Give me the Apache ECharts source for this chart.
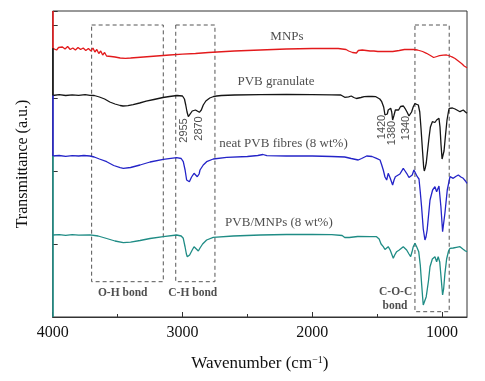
<!DOCTYPE html>
<html>
<head>
<meta charset="utf-8">
<script src="https://cdn.jsdelivr.net/npm/echarts@6/dist/echarts.min.js"></script>
<style>html,body{margin:0;padding:0;background:#fff}#c{width:485px;height:381px}</style>
</head>
<body>
<div id="c"></div>
<script>
// Wavenumber (cm-1) vs offset transmittance (a.u.)
const xMajorTicks = [1000, 2000, 3000, 4000];
const xMinorTicks = [1500, 2500, 3500];
const xTickLabels = [1000, 2000, 3000, 4000];

const mnps = [[4000,268.7],[3985,270],[3970,267],[3955,269.5],[3940,267.5],[3925,270],[3905,268],[3885,270.5],[3865,267.5],[3845,269],[3825,267],[3805,269.5],[3785,267.5],[3765,269],[3745,266.5],[3725,268.5],[3705,266],[3690,269],[3675,265],[3660,267.5],[3645,263.5],[3630,266],[3615,262],[3600,264.5],[3585,261],[3570,263],[3550,260.5],[3520,260],[3480,259],[3440,258.7],[3400,259],[3350,259.5],[3300,260],[3200,261],[3100,262],[3000,262.8],[2900,263.5],[2800,264.5],[2600,266],[2400,267],[2200,268],[2000,268.5],[1900,268.7],[1800,268.5],[1740,267.5],[1720,266],[1705,267.5],[1690,264.5],[1675,266.5],[1660,264],[1645,266.5],[1630,265],[1615,267],[1600,265],[1585,266.5],[1570,264.5],[1555,266],[1540,264],[1525,266],[1510,264.5],[1495,265.5],[1480,264],[1465,265.5],[1450,264.5],[1435,265.5],[1420,265],[1380,265.5],[1330,266.5],[1290,267.5],[1260,267.7],[1220,267.5],[1190,267],[1150,265.5],[1120,263.7],[1090,261.5],[1065,259.5],[1055,259.3],[1040,260.5],[1020,261.3],[990,261.8],[965,262],[940,261],[920,259.8],[900,258.5],[875,256],[850,253.5],[830,251],[815,249.5],[808,249.3]];

const pvbGranulate = [[4000,221.5],[3950,222.3],[3900,221.5],[3850,222.2],[3800,221.6],[3750,222.3],[3713,221.7],[3680,221.5],[3640,220],[3600,218],[3560,215],[3520,213],[3480,211.5],[3458,211],[3420,211.3],[3380,212.3],[3330,214],[3280,215.8],[3220,217.5],[3150,219.5],[3100,220.5],[3042,221.5],[3000,221],[2985,218],[2975,212],[2965,205],[2955,200.3],[2940,202],[2925,206],[2912,208],[2900,207],[2885,205.5],[2870,204.7],[2855,207],[2840,212],[2820,216],[2790,219],[2760,220.5],[2737,221],[2700,221.5],[2600,222],[2400,222.3],[2200,222.5],[2000,222.3],[1850,222.2],[1780,222],[1765,221],[1750,219.7],[1720,220.2],[1700,221],[1680,219.5],[1660,218.5],[1647,218],[1625,219.5],[1600,220.3],[1570,220.5],[1540,220.7],[1510,220.3],[1495,219.5],[1480,218],[1465,215.3],[1450,210],[1440,202],[1432,200.5],[1422,203],[1415,207],[1405,209],[1396,208.7],[1388,205],[1381,197],[1372,201],[1360,207],[1352,206.5],[1345,205.3],[1335,207],[1320,210.5],[1311,212],[1298,211],[1286,208.7],[1270,205],[1255,201],[1247,200.3],[1235,205],[1222,210.3],[1210,213.3],[1204,213.7],[1195,213],[1183,212],[1172,205],[1162,188],[1150,165],[1142,150],[1137,146],[1130,149],[1122,154],[1112,166],[1100,180],[1090,190],[1075,195.3],[1068,193.7],[1055,194.5],[1042,197],[1030,198.5],[1024,198.7],[1016,190],[1008,172],[1000,158],[995,157],[985,166],[975,180],[962,197],[950,206],[945,208.7],[935,207.5],[920,209],[900,208],[888,207],[862,205.3],[837,207],[820,205],[808,203.7]];

const neatFibres = [[4000,161],[3950,161.5],[3900,160.7],[3850,161.3],[3800,161],[3760,161.5],[3713,161],[3680,160],[3640,158],[3584,155.3],[3530,151.5],[3480,149.3],[3456,148.7],[3400,149.5],[3327,152],[3250,155],[3148,157.7],[3045,159.3],[3010,158.5],[2994,155.3],[2980,147],[2968,137],[2955,135.5],[2947,135.3],[2930,140],[2911,143.7],[2898,142],[2886,140.3],[2872,143],[2865,147],[2840,152],[2814,155.3],[2763,158],[2660,159.7],[2500,160.5],[2420,161.5],[2380,162.5],[2350,161.3],[2200,161],[2000,161],[1850,160.5],[1750,160],[1700,158.5],[1646,157],[1620,158.5],[1581,161],[1540,160.5],[1505,158.7],[1478,157],[1465,152],[1453,147],[1440,140],[1427,137],[1415,143.7],[1400,139],[1381,132],[1370,137],[1360,140.3],[1352,139.5],[1345,138.7],[1325,143],[1299,148.7],[1285,146],[1273,143.7],[1255,139.5],[1242,137.7],[1230,142],[1217,147],[1204,147],[1191,140.3],[1178,138],[1168,125],[1158,110.3],[1145,88],[1132,77],[1124,80],[1115,87],[1093,117],[1073,127],[1055,130.3],[1042,125.3],[1024,131],[1009,110.3],[996,85.3],[978,104],[960,127],[939,140.3],[914,138.7],[895,140.5],[875,142],[855,140],[837,138.7],[820,136],[808,133.7]];

const pvbMnps = [[4000,82],[3950,82.4],[3900,81.7],[3850,82.3],[3800,81.8],[3713,82.2],[3650,81],[3584,78.5],[3520,76],[3456,74.3],[3400,74.8],[3327,76.5],[3250,78.5],[3148,80.3],[3045,82],[3010,81],[2994,78.7],[2980,70],[2970,63],[2963,60.3],[2945,62],[2925,67],[2911,70.3],[2898,68.5],[2878,66],[2865,69],[2845,73],[2814,77],[2763,79.7],[2609,81],[2400,82],[2200,82.5],[2000,82.5],[1850,82.3],[1770,81.5],[1750,79.5],[1735,78.7],[1715,79.5],[1700,80.3],[1650,80.5],[1555,80.3],[1505,80.3],[1485,78],[1470,73],[1453,70.3],[1440,67.5],[1427,67],[1415,70.3],[1400,67],[1376,58.7],[1365,62],[1350,65.3],[1330,67],[1299,70.3],[1285,68.5],[1273,67],[1255,63],[1242,60.3],[1230,66],[1222,70.3],[1209,73.7],[1195,70],[1180,65.3],[1168,52],[1158,33.7],[1150,20],[1145,12],[1135,14],[1122,20.3],[1105,36],[1093,50.3],[1075,58],[1055,60.3],[1042,55.3],[1030,60.3],[1018,55],[1008,40],[996,22],[988,28],[978,43.7],[965,58],[950,66],[939,68.7],[914,69],[890,69.7],[862,70.3],[840,68],[820,66],[808,65.3]];

const seriesNames = ['MNPs', 'PVB granulate', 'neat PVB fibres (8 wt%)', 'PVB/MNPs (8 wt%)'];
const seriesLabelPos = [[2195, 280], [2280, 235], [2222, 173], [2257, 94]];
const bondLabels = [['O-H bond', 3461, 23.7], ['C-H bond', 2921, 23.7], ['C-O-C', 1358, 24.7], ['bond', 1363, 11]];
const peakLabels = [['2955', 2990, 186.5], ['2870', 2876, 188.5], ['1420', 1465, 190], ['1380', 1386, 184], ['1340', 1281, 189]];
const boxes = [[3700, 3148, 292, 35.3], [3052, 2750, 292, 35.3], [1209, 945, 292, 5.3]];

const colors = ['#e31a1c', '#151515', '#2424c8', '#1f8c85'];
const allData = [mnps, pvbGranulate, neatFibres, pvbMnps];
const yMax = 306;

const serif = '"Liberation Serif", "Times New Roman", serif';
const chart = echarts.init(document.getElementById('c'));

const lineSeries = allData.map((d, i) => ({
  name: seriesNames[i],
  type: 'line',
  data: d,
  showSymbol: false,
  symbol: 'none',
  lineStyle: { color: colors[i], width: 1.3 },
  z: 3,
  silent: true,
  markLine: {
    silent: true,
    symbol: 'none',
    label: { show: false },
    lineStyle: { color: colors[i], width: 1.6, type: 'solid' },
    data: [[{ coord: [4000, i === 0 ? yMax : allData[i - 1][0][1]] }, { coord: [4000, i === 3 ? 0 : d[0][1]] }]]
  }
}));

const textSeries = [
  {
    type: 'scatter', symbolSize: 0.1, itemStyle: { color: 'transparent' }, silent: true, z: 5,
    data: seriesNames.map((n, i) => ({ value: seriesLabelPos[i], name: n })),
    label: { show: true, position: 'inside', formatter: p => p.name, color: '#222', fontFamily: serif, fontSize: 13 }
  },
  {
    type: 'scatter', symbolSize: 0.1, itemStyle: { color: 'transparent' }, silent: true, z: 5,
    data: bondLabels.map(b => ({ value: [b[1], b[2]], name: b[0] })),
    label: { show: true, position: 'inside', formatter: p => p.name, color: '#222', fontFamily: serif, fontSize: 11.5, fontWeight: 'bold' }
  },
  {
    type: 'scatter', symbolSize: 0.1, itemStyle: { color: 'transparent' }, silent: true, z: 5,
    data: peakLabels.map(b => ({ value: [b[1], b[2]], name: b[0] })),
    label: { show: true, position: 'inside', rotate: 90, formatter: p => p.name, color: '#222', fontFamily: '"Liberation Sans", Arial, sans-serif', fontSize: 11 }
  },
  {
    type: 'line', data: [], silent: true, z: 2,
    markArea: {
      silent: true,
      itemStyle: { color: 'rgba(0,0,0,0)', borderColor: '#555', borderWidth: 1, borderType: [4, 3] },
      label: { show: false },
      data: boxes.map(b => [{ coord: [b[0], b[2]] }, { coord: [b[1], b[3]] }])
    }
  }
];

chart.setOption({
  animation: false,
  backgroundColor: '#fff',
  grid: { left: 52.7, right: 18, top: 11, bottom: 64, show: true, borderColor: '#333', borderWidth: 1, backgroundColor: 'transparent' },
  xAxis: [{
    type: 'value', inverse: true, min: 808, max: 4000,
    axisLine: { show: true, lineStyle: { color: '#333', width: 1 } },
    axisTick: { show: true, inside: true, length: 5, customValues: xMajorTicks, lineStyle: { color: '#333' } },
    axisLabel: { customValues: xTickLabels, formatter: v => String(v), fontFamily: serif, fontSize: 16, color: '#111', margin: 8 },
    splitLine: { show: false },
    name: '{a|Wavenumber (cm}{s|−1}{a|)}',
    nameLocation: 'middle', nameGap: 38,
    nameTextStyle: {
      rich: {
        a: { fontFamily: serif, fontSize: 17, color: '#111' },
        s: { fontFamily: serif, fontSize: 10, color: '#111', verticalAlign: 'top', padding: [0, 0, 8, 0] }
      }
    }
  }, {
    type: 'value', inverse: true, min: 808, max: 4000, position: 'bottom',
    axisLine: { show: false },
    axisTick: { show: true, inside: true, length: 3, customValues: xMinorTicks, lineStyle: { color: '#333' } },
    axisLabel: { show: false },
    splitLine: { show: false }
  }],
  yAxis: {
    type: 'value', min: 0, max: yMax, interval: 73,
    axisLine: { show: false },
    axisTick: { show: true, inside: true, length: 5, lineStyle: { color: '#333' } },
    axisLabel: { show: false },
    splitLine: { show: false },
    name: 'Transmittance (a.u.)', nameLocation: 'middle', nameGap: 22,
    nameTextStyle: { fontFamily: serif, fontSize: 16, color: '#111' }
  },
  series: lineSeries.concat(textSeries)
});
</script>
</body>
</html>
